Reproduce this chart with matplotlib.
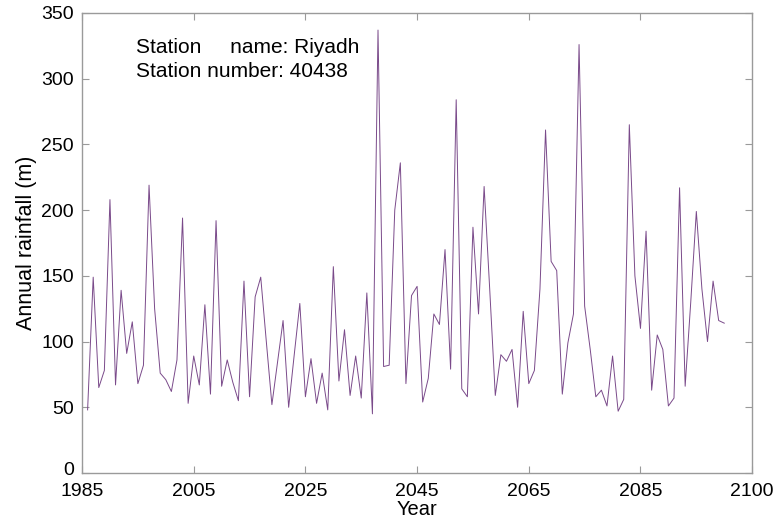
import numpy as np
import matplotlib
matplotlib.use("Agg")
import matplotlib.pyplot as plt
from matplotlib.transforms import ScaledTranslation

plt.rcParams['font.family'] = ['Liberation Sans', 'DejaVu Sans']

# annual rainfall series, one value per year
years = list(range(1986, 2101))
rainfall = [
    48, 149, 65, 78, 208, 67, 139, 91, 115, 68,
    82, 219, 125, 76, 71, 62, 86, 194, 53, 89,
    67, 128, 60, 192, 66, 86, 69, 55, 146, 58,
    134, 149, 100, 52, 84, 116, 50, 90, 129, 58,
    87, 53, 76, 48, 157, 70, 109, 59, 89, 57,
    137, 45, 337, 81, 82, 200, 236, 68, 135, 142,
    54, 72, 121, 113, 170, 79, 284, 64, 58, 187,
    121, 218, 140, 59, 90, 85, 94, 50, 123, 68,
    78, 140, 261, 161, 154, 60, 99, 121, 326, 127,
    94, 58, 63, 51, 89, 47, 56, 265, 150, 110,
    184, 63, 105, 94, 51, 57, 217, 66, 130, 199,
    140, 100, 146, 116, 114,
]

xticks = [1985, 2005, 2025, 2045, 2065, 2085, 2105]
xtick_labels = ['1985', '2005', '2025', '2045', '2065', '2085', '2100']
yticks = [0, 50, 100, 150, 200, 250, 300, 350]

station_name = 'Riyadh'
station_number = '40438'

fig = plt.figure(figsize=(7.76, 5.22), dpi=100)
ax = fig.add_axes([0.1057, 0.0939, 0.8636, 0.8812])

ax.plot(years, rainfall, color='#7a4a8a', linewidth=0.7)

ax.set_xlim(1985, 2105)
ax.set_ylim(0, 350)
ax.set_xticks(xticks)
ax.set_xticklabels(xtick_labels)
ax.set_yticks(yticks)

for s in ax.spines.values():
    s.set_color('#9a9a9a')
    s.set_linewidth(1.0)
ax.tick_params(direction='in', length=5, width=0.8, color='#9a9a9a',
               top=True, right=True, labelsize=14, labelcolor='black')
ax.tick_params(axis='x', pad=7)
ax.tick_params(axis='y', pad=6)

# lift the "0" label a little so it clears the first year label
zero_lbl = ax.get_yticklabels()[0]
zero_lbl.set_transform(zero_lbl.get_transform() +
                       ScaledTranslation(0, 3 / 72, fig.dpi_scale_trans))

ax.set_xlabel('Year', fontsize=14.5, labelpad=0)
ax.set_ylabel('Annual rainfall (m)', fontsize=15.5, labelpad=3)

ax.text(0.081, 0.924, 'Station     name: ' + station_name, transform=ax.transAxes,
        fontsize=15, va='center', ha='left')
ax.text(0.081, 0.872, 'Station number: ' + station_number, transform=ax.transAxes,
        fontsize=15, va='center', ha='left')

fig.savefig('out.png', dpi=100)
